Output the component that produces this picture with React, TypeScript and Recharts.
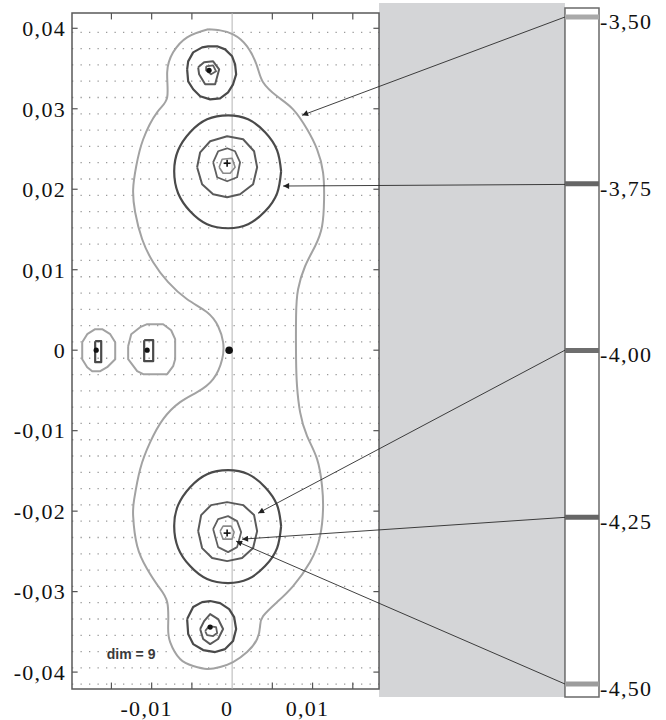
import React from 'react';
import {
  ComposedChart, XAxis, YAxis, Line, Scatter, ReferenceArea, ReferenceLine, ReferenceDot, CartesianGrid,
} from 'recharts';

type Pt = [number, number];

// ---- axes ----
const X_DOMAIN: [number, number] = [-0.0199, 0.0456];
const Y_DOMAIN: [number, number] = [-0.0421, 0.0419];
const LEVEL_DOMAIN: [number, number] = [-4.5075, -3.494];
const X_TICKS = [-0.01, 0, 0.01];
const X_MINOR_TICKS = [-0.015, -0.01, -0.005, 0.005, 0.01, 0.015];
const Y_TICKS = [-0.04, -0.03, -0.02, -0.01, 0, 0.01, 0.02, 0.03, 0.04];
const LEVELS = [-3.5, -3.75, -4.0, -4.25, -4.5];
const FRAME_RIGHT = 0.01826;
const BAR_LEFT = 0.04137;
const PANEL_TOP = 0.04314;
const PANEL_BOTTOM = -0.04309;
const BAR_TOP = 0.04252;

// ---- contours (level -3.50) ----
const OUTER_350: Pt[] = [
  [-0.00298, 0.03987], [-0.00149, 0.03974], [0.00012, 0.03925], [0.00186, 0.03776], [0.00311, 0.03527],
  [0.00385, 0.03329], [0.00559, 0.03155], [0.00758, 0.02993], [0.00932, 0.02745], [0.01056, 0.02496],
  [0.0113, 0.02211], [0.01143, 0.01875], [0.01118, 0.0154], [0.01031, 0.01292], [0.00907, 0.01043],
  [0.0082, 0.00758], [0.00795, 0.00422], [0.00795, -0.00112], [0.00807, -0.00447], [0.00845, -0.0077],
  [0.00932, -0.01068], [0.01056, -0.01354], [0.01118, -0.01689], [0.0113, -0.01975], [0.01093, -0.0231],
  [0.00969, -0.02633], [0.00758, -0.02931], [0.00559, -0.0313], [0.00385, -0.03304], [0.00348, -0.03428],
  [0.00311, -0.03589], [0.00186, -0.03751], [0.00012, -0.03875], [-0.00149, -0.03937], [-0.00311, -0.03962],
  [-0.00484, -0.03925], [-0.00646, -0.03838], [-0.0077, -0.03627], [-0.00795, -0.03428], [-0.00807, -0.0313],
  [-0.00919, -0.02931], [-0.01056, -0.0272], [-0.0118, -0.02434], [-0.0123, -0.02062], [-0.01217, -0.01851],
  [-0.01143, -0.01478], [-0.01018, -0.01143], [-0.00857, -0.00857], [-0.00646, -0.00646], [-0.00435, -0.00522],
  [-0.00236, -0.0036], [-0.00124, -0.00112], [-0.00112, 0.00099], [-0.00174, 0.00298], [-0.00311, 0.00472],
  [-0.00559, 0.00633], [-0.00795, 0.00845], [-0.00981, 0.01093], [-0.01118, 0.01379], [-0.01205, 0.01714],
  [-0.0123, 0.02], [-0.01192, 0.02285], [-0.01105, 0.02621], [-0.00932, 0.02956], [-0.00807, 0.03142],
  [-0.00807, 0.03453], [-0.00733, 0.03701], [-0.00559, 0.03888],
];
const SMALL_LEFT_1: Pt[] = [
  [-0.01863, 0.00099], [-0.01801, 0.00199], [-0.01702, 0.00261], [-0.01615, 0.00261], [-0.01515, 0.00199],
  [-0.01453, 0.00099], [-0.01453, -0.00112], [-0.01553, -0.00211], [-0.01639, -0.00261], [-0.01739, -0.00261],
  [-0.01801, -0.00211], [-0.01863, -0.00112],
];
const SMALL_LEFT_2: Pt[] = [
  [-0.01292, 0.0005], [-0.01254, 0.00199], [-0.01143, 0.00286], [-0.01056, 0.00323], [-0.00857, 0.00323],
  [-0.00758, 0.00248], [-0.00708, 0.00137], [-0.00708, -0.00112], [-0.00733, -0.00199], [-0.00807, -0.00298],
  [-0.01105, -0.00298], [-0.0118, -0.00261], [-0.01292, -0.00112],
];

// ---- contours (level -3.75) ----
const CIRCLE_UP_375: Pt[] = [
  [0.00609, 0.02223], [0.00559, 0.02484], [0.0041, 0.02708], [0.00199, 0.02869], [-0.0005, 0.02919],
  [-0.00311, 0.02869], [-0.00522, 0.02708], [-0.00671, 0.02484], [-0.0072, 0.02223], [-0.00671, 0.0195],
  [-0.00522, 0.01726], [-0.00311, 0.01565], [-0.0005, 0.01515], [0.00199, 0.01565], [0.0041, 0.01726],
  [0.00559, 0.0195],
];
const CIRCLE_DOWN_375: Pt[] = [
  [0.00609, -0.02186], [0.00559, -0.01925], [0.0041, -0.01702], [0.00199, -0.0154], [-0.0005, -0.0149],
  [-0.00311, -0.0154], [-0.00522, -0.01702], [-0.00671, -0.01925], [-0.0072, -0.02186], [-0.00671, -0.02459],
  [-0.00522, -0.02683], [-0.00311, -0.02844], [-0.0005, -0.02894], [0.00199, -0.02844], [0.0041, -0.02683],
  [0.00559, -0.02459],
];
const TOP_PEAK_375: Pt[] = [
  [-0.00559, 0.0349], [-0.00546, 0.03589], [-0.00484, 0.03701], [-0.00373, 0.03763], [-0.00298, 0.03776],
  [-0.00186, 0.03776], [-0.00087, 0.03738], [0, 0.03652], [0.00037, 0.03552], [0.0005, 0.03428],
  [0.00012, 0.03304], [-0.0005, 0.03204], [-0.00149, 0.0313], [-0.00273, 0.03117], [-0.00397, 0.03155],
  [-0.00484, 0.03242], [-0.00546, 0.03341],
];
const BOTTOM_PEAK_375: Pt[] = [
  [-0.00559, -0.03341], [-0.00484, -0.03192], [-0.00373, -0.0313], [-0.00273, -0.03117], [-0.00149, -0.03142],
  [-0.00037, -0.03217], [0.00025, -0.03316], [0.0005, -0.03465], [0.00012, -0.03614], [-0.00087, -0.03714],
  [-0.00211, -0.03751], [-0.0036, -0.03726], [-0.00484, -0.03652], [-0.00546, -0.03527],
];
const RECT_1: Pt[] = [[-0.01702, 0.00112], [-0.01627, 0.00112], [-0.01627, -0.00149], [-0.01702, -0.00149]];
const RECT_2: Pt[] = [[-0.01093, 0.00124], [-0.00981, 0.00124], [-0.00981, -0.00137], [-0.01093, -0.00137]];

// ---- contours (level -4.00) ----
const RING_UP_400: Pt[] = [
  [-0.00435, 0.02273], [-0.00397, 0.02459], [-0.00273, 0.02596], [-0.00062, 0.02658], [0.00137, 0.02621],
  [0.00273, 0.02472], [0.00311, 0.02273], [0.00261, 0.02062], [0.00099, 0.01938], [-0.00062, 0.019],
  [-0.00236, 0.01938], [-0.00373, 0.02062],
];
const RING_DOWN_400: Pt[] = [
  [-0.00422, -0.02248], [-0.00385, -0.02049], [-0.00261, -0.01925], [-0.00062, -0.01888], [0.00137, -0.01925],
  [0.00273, -0.02049], [0.00311, -0.02248], [0.00261, -0.02459], [0.00124, -0.02583], [-0.00062, -0.02621],
  [-0.00248, -0.02583], [-0.00373, -0.02459],
];
const TOP_PEAK_400: Pt[] = [
  [-0.00422, 0.03515], [-0.00348, 0.03577], [-0.00236, 0.03589], [-0.00161, 0.0349], [-0.00211, 0.03304],
  [-0.00335, 0.03304], [-0.0041, 0.03428],
];
const BOTTOM_PEAK_400: Pt[] = [
  [-0.00397, -0.03465], [-0.00348, -0.03366], [-0.00273, -0.03279], [-0.00174, -0.03341], [-0.00112, -0.03465],
  [-0.00174, -0.03589], [-0.00273, -0.03652], [-0.0036, -0.03589],
];

// ---- contours (level -4.25) ----
const RING_UP_425: Pt[] = [
  [-0.00236, 0.02335], [-0.00174, 0.02472], [-0.00062, 0.02509], [0.00037, 0.02472], [0.00099, 0.02335],
  [0.00062, 0.02149], [-0.00062, 0.02099], [-0.00186, 0.02149],
];
const RING_DOWN_425: Pt[] = [
  [-0.00236, -0.02223], [-0.00174, -0.02099], [-0.0005, -0.02062], [0.00062, -0.02124], [0.00112, -0.02261],
  [0.00062, -0.02447], [-0.0005, -0.02509], [-0.00174, -0.02447],
];
const TOP_PEAK_425: Pt[] = [
  [-0.00323, 0.03527], [-0.00236, 0.0354], [-0.00199, 0.03465], [-0.00261, 0.03428], [-0.00323, 0.03478],
];
const BOTTOM_PEAK_425: Pt[] = [
  [-0.00335, -0.0349], [-0.00286, -0.03428], [-0.00199, -0.03441], [-0.00186, -0.03515], [-0.00236, -0.03552],
  [-0.00311, -0.0354],
];

// ---- contours (level -4.50) ----
const CORE_UP_450: Pt[] = [
  [-0.00161, 0.02273], [-0.00124, 0.02372], [0, 0.02385], [0.00037, 0.02273], [-0.00025, 0.02199], [-0.00112, 0.02199],
];
const CORE_DOWN_450: Pt[] = [
  [-0.00149, -0.02248], [-0.00112, -0.02186], [-0.00012, -0.02186], [0.00025, -0.02261], [0, -0.02348], [-0.00112, -0.02348],
];

const CONTOURS: { id: string; level: string; pts: Pt[]; smooth: boolean }[] = [
  { id: 'outer', level: '-3.50', pts: OUTER_350, smooth: true },
  { id: 'sl1', level: '-3.50', pts: SMALL_LEFT_1, smooth: false },
  { id: 'sl2', level: '-3.50', pts: SMALL_LEFT_2, smooth: false },
  { id: 'cu', level: '-3.75', pts: CIRCLE_UP_375, smooth: true },
  { id: 'cd', level: '-3.75', pts: CIRCLE_DOWN_375, smooth: true },
  { id: 'tp', level: '-3.75', pts: TOP_PEAK_375, smooth: false },
  { id: 'bp', level: '-3.75', pts: BOTTOM_PEAK_375, smooth: false },
  { id: 'r1', level: '-3.75', pts: RECT_1, smooth: false },
  { id: 'r2', level: '-3.75', pts: RECT_2, smooth: false },
  { id: 'ru4', level: '-4.00', pts: RING_UP_400, smooth: false },
  { id: 'rd4', level: '-4.00', pts: RING_DOWN_400, smooth: false },
  { id: 'tp4', level: '-4.00', pts: TOP_PEAK_400, smooth: false },
  { id: 'bp4', level: '-4.00', pts: BOTTOM_PEAK_400, smooth: false },
  { id: 'ru425', level: '-4.25', pts: RING_UP_425, smooth: false },
  { id: 'rd425', level: '-4.25', pts: RING_DOWN_425, smooth: false },
  { id: 'tp425', level: '-4.25', pts: TOP_PEAK_425, smooth: false },
  { id: 'bp425', level: '-4.25', pts: BOTTOM_PEAK_425, smooth: false },
  { id: 'cu45', level: '-4.50', pts: CORE_UP_450, smooth: false },
  { id: 'cd45', level: '-4.50', pts: CORE_DOWN_450, smooth: false },
];

// ---- extremum markers ----
const MARKERS = [
  { x: -0.00286, y: 0.03478, kind: 'dot' },
  { x: -0.00062, y: 0.02323, kind: 'plus' },
  { x: -0.01689, y: 0, kind: 'dot' },
  { x: -0.01056, y: 0, kind: 'dot' },
  { x: -0.00037, y: 0, kind: 'big' },
  { x: -0.00062, y: -0.02273, kind: 'plus' },
  { x: -0.00273, y: -0.03441, kind: 'dot' },
];

// ---- arrows from colour bar to contours ----
const ARROWS: { level: number; from: Pt; to: Pt }[] = [
  { level: -3.5, from: [0.04137, 0.0414], to: [0.0087, 0.02919] },
  { level: -3.75, from: [0.04137, 0.0206], to: [0.00634, 0.0204] },
  { level: -4.0, from: [0.04137, 0.0], to: [0.00323, -0.02025] },
  { level: -4.25, from: [0.04137, -0.02077], to: [0.00124, -0.02348] },
  { level: -4.5, from: [0.04137, -0.04148], to: [0.0005, -0.02373] },
];

const DIM_LABEL = { x: -0.01255, y: -0.03776, text: 'dim = 9' };

// ---- styles ----
const LEVEL_STYLE: Record<string, { stroke: string; width: number }> = {
  '-3.50': { stroke: '#a2a2a2', width: 2 },
  '-3.75': { stroke: '#4a4a4a', width: 2.2 },
  '-4.00': { stroke: '#5a5a5a', width: 2 },
  '-4.25': { stroke: '#606060', width: 1.8 },
  '-4.50': { stroke: '#8a8a8a', width: 1.6 },
};
const BAND_COLOR: Record<string, string> = {
  '-3.50': '#a9a9a9', '-3.75': '#666666', '-4.00': '#6e6e6e', '-4.25': '#666666', '-4.50': '#9c9c9c',
};
const TICK_LEN_X = 0.0007;
const TICK_LEN_Y = 0.0008;
const GRID_ROWS: number[] = Array.from({ length: 41 }, (_, i) => 0.0395 - i * 0.002025);

const SERIF = 'Liberation Serif, Times New Roman, serif';
const tickProps = {
  fontFamily: SERIF,
  fontSize: 22,
  fill: '#111',
  letterSpacing: 1.3,
};
const fmt = (v: number) => (v === 0 ? '0' : v.toFixed(2).replace('.', ','));

const XTick = (p: any) => (
  <text x={p.x - 5} y={p.y} dy="0.71em" textAnchor="middle" {...tickProps} style={{ fontFamily: SERIF }}>
    {fmt(p.payload.value)}
  </text>
);
const YTickLeft = (p: any) => (
  <text x={p.x} y={p.y} dy="0.355em" textAnchor="end" {...tickProps} style={{ fontFamily: SERIF }}>
    {fmt(p.payload.value)}
  </text>
);
const YTickRight = (p: any) => (
  <text x={p.x} y={p.y + 4} dy="0.355em" textAnchor="start" {...tickProps} style={{ fontFamily: SERIF }}>
    {p.payload.value.toFixed(2).replace('.', ',')}
  </text>
);

const renderMarker = (p: any) => {
  const { cx, cy, payload } = p;
  if (payload.kind === 'plus') {
    return (
      <g>
        <line x1={cx - 3.5} y1={cy} x2={cx + 3.5} y2={cy} stroke="#111" strokeWidth={1.6} />
        <line x1={cx} y1={cy - 3.5} x2={cx} y2={cy + 3.5} stroke="#111" strokeWidth={1.6} />
      </g>
    );
  }
  const r = payload.kind === 'big' ? 3.8 : 2.6;
  return <circle cx={cx} cy={cy} r={r} fill="#111" />;
};

const toRows = (pts: Pt[]) => pts.map(([x, y]) => ({ x, y }));

export default function App() {
  return (
    <div style={{ position: 'absolute', left: 0, top: 0, width: 666, height: 720, background: '#fff' }}>
      <ComposedChart width={666} height={720} margin={{ top: 13, right: 0, bottom: 0, left: 0 }}>
        <defs>
          <marker id="arrowHead" viewBox="0 0 10 10" refX="10" refY="5" markerWidth="10" markerHeight="6"
            markerUnits="userSpaceOnUse" orient="auto">
            <path d="M0,0 L10,5 L0,10 z" fill="#222" />
          </marker>
        </defs>
        <CartesianGrid vertical={false} horizontalValues={GRID_ROWS} stroke="#9a9a9a" strokeWidth={1.3}
          strokeDasharray="1.3 7.2" />
        <XAxis xAxisId={0} type="number" dataKey="x" domain={X_DOMAIN} allowDataOverflow ticks={X_TICKS}
          axisLine={false} tickLine={false} tickSize={0} tickMargin={11} height={31} tick={XTick} interval={0} />
        <YAxis yAxisId={0} type="number" dataKey="y" domain={Y_DOMAIN} allowDataOverflow ticks={Y_TICKS}
          width={72} axisLine={false} tickLine={false} tickSize={0} tickMargin={6} tick={YTickLeft} interval={0} />
        <YAxis yAxisId="lv" orientation="right" type="number" domain={LEVEL_DOMAIN} allowDataOverflow ticks={LEVELS}
          width={67} axisLine={false} tickLine={false} tickSize={0} tickMargin={1} tick={YTickRight} interval={0} />

        <ReferenceArea x1={FRAME_RIGHT} x2={BAR_LEFT} y1={PANEL_BOTTOM} y2={PANEL_TOP} ifOverflow="visible"
          fill="#d4d5d7" fillOpacity={1} stroke="none" />
        <ReferenceArea x1={BAR_LEFT} x2={X_DOMAIN[1]} y1={PANEL_BOTTOM} y2={BAR_TOP} ifOverflow="visible"
          fill="#ffffff" fillOpacity={1} stroke="#6a6a6a" strokeWidth={1.5} />
        <ReferenceArea x1={X_DOMAIN[0]} x2={FRAME_RIGHT} y1={Y_DOMAIN[0]} y2={Y_DOMAIN[1]} ifOverflow="visible"
          fill="none" stroke="#5a5a5a" strokeWidth={1.5} />

        <ReferenceLine x={0} stroke="#b4b4b4" strokeWidth={1} segment={[{ x: 0, y: Y_DOMAIN[0] }, { x: 0, y: Y_DOMAIN[1] }]} />

        {Y_TICKS.map((v) => (
          <ReferenceLine key={`yl${v}`} stroke="#555" strokeWidth={1.2}
            segment={[{ x: X_DOMAIN[0], y: v }, { x: X_DOMAIN[0] + TICK_LEN_X, y: v }]} />
        ))}
        {Y_TICKS.map((v) => (
          <ReferenceLine key={`yr${v}`} stroke="#555" strokeWidth={1.2}
            segment={[{ x: FRAME_RIGHT - TICK_LEN_X, y: v }, { x: FRAME_RIGHT, y: v }]} />
        ))}
        {X_MINOR_TICKS.map((v) => (
          <ReferenceLine key={`xb${v}`} stroke="#555" strokeWidth={1.2}
            segment={[{ x: v, y: Y_DOMAIN[0] }, { x: v, y: Y_DOMAIN[0] + TICK_LEN_Y }]} />
        ))}
        {X_MINOR_TICKS.map((v) => (
          <ReferenceLine key={`xt${v}`} stroke="#555" strokeWidth={1.2}
            segment={[{ x: v, y: Y_DOMAIN[1] }, { x: v, y: Y_DOMAIN[1] - TICK_LEN_Y }]} />
        ))}

        {LEVELS.map((lv) => (
          <ReferenceLine key={`band${lv}`} yAxisId="lv" ifOverflow="visible" stroke={BAND_COLOR[lv.toFixed(2)]}
            strokeWidth={5} segment={[{ x: BAR_LEFT, y: lv }, { x: X_DOMAIN[1], y: lv }]} />
        ))}

        {CONTOURS.map((c) => (
          <Line key={c.id} data={toRows([...c.pts, c.pts[0]])} dataKey="y" type={c.smooth ? 'natural' : 'linear'}
            stroke={LEVEL_STYLE[c.level].stroke} strokeWidth={LEVEL_STYLE[c.level].width} strokeLinejoin="round"
            dot={false} activeDot={false} isAnimationActive={false} legendType="none" />
        ))}

        {ARROWS.map((a) => (
          <Line key={`arr${a.level}`} data={toRows([a.from, a.to])} dataKey="y" type="linear" stroke="#2a2a2a"
            strokeWidth={0.9} markerEnd="url(#arrowHead)" dot={false} activeDot={false}
            isAnimationActive={false} legendType="none" />
        ))}

        <Scatter data={MARKERS} dataKey="y" shape={renderMarker} isAnimationActive={false} legendType="none" />

        <ReferenceDot x={DIM_LABEL.x} y={DIM_LABEL.y} r={0} fill="none" stroke="none"
          label={{ value: DIM_LABEL.text, position: 'center', fill: '#3a3a3a', fontSize: 14,
            fontFamily: 'Liberation Sans, Arial, sans-serif', fontWeight: 'bold' }} />
      </ComposedChart>
    </div>
  );
}
